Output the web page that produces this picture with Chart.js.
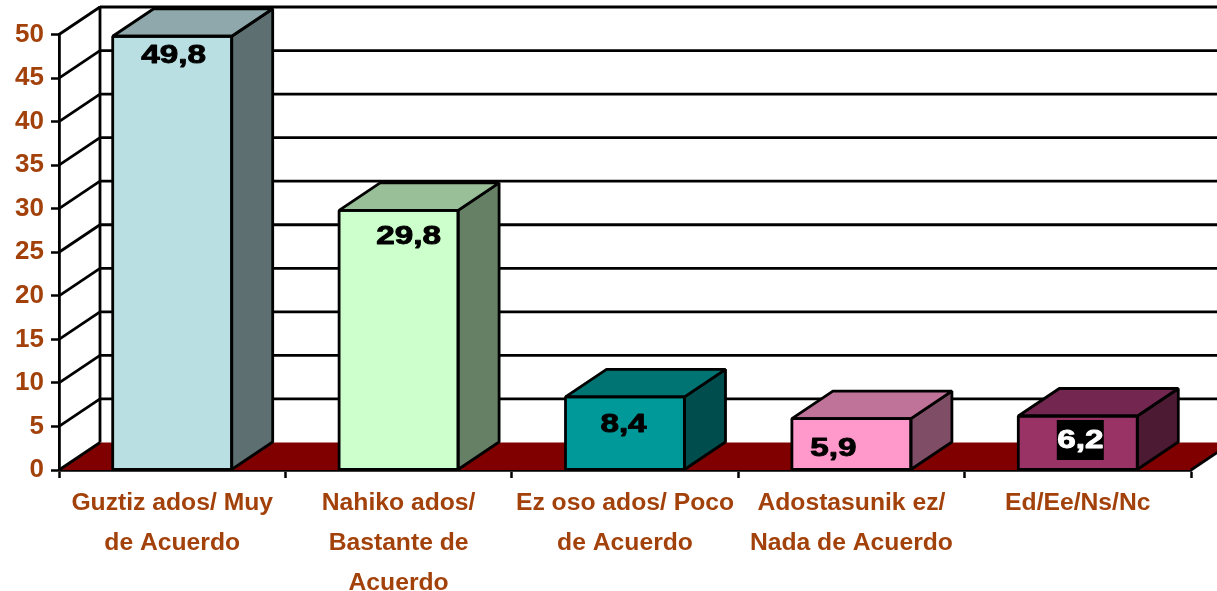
<!DOCTYPE html>
<html><head><meta charset="utf-8">
<style>html,body{margin:0;padding:0;background:#fff;overflow:hidden}canvas{display:block}</style>
<script src="https://cdn.jsdelivr.net/npm/chart.js@4"></script>
</head><body><canvas id="c" width="1217" height="591"></canvas>
<script>
const categories=[["Guztiz ados/ Muy","de Acuerdo"],["Nahiko ados/","Bastante de","Acuerdo"],["Ez oso ados/ Poco","de Acuerdo"],["Adostasunik ez/","Nada de Acuerdo"],["Ed/Ee/Ns/Nc"]];
const values=[49.8,29.8,8.4,5.9,6.2];
const valueLabels=["49,8","29,8","8,4","5,9","6,2"];
const frontColors=["#B9DFE2","#CCFFCC","#009999","#FF99CC","#993366"];
const sideColors=["#5E6F72","#668066","#004D4D","#804D66","#4D1A33"];
const topColors=["#8FA8AB","#99BF99","#007373","#BF7399","#732650"];
const labelShiftX=[1.5,10,-1.5,-18,2.5];
const labelShiftY=[17,24,26,28,23];
const labelColors=["#000","#000","#000","#000","#fff"];
const labelBoxes=[null,null,null,null,"#000"];
const depthX=41,depthY=27.5,LW=2.8,TXT="#A3410B";
function poly(ctx,pts,fill,stroke){ctx.beginPath();pts.forEach((p,i)=>i?ctx.lineTo(p[0],p[1]):ctx.moveTo(p[0],p[1]));ctx.closePath();
 if(fill){ctx.fillStyle=fill;ctx.fill();} if(stroke){ctx.strokeStyle="#000";ctx.lineWidth=LW;ctx.lineJoin="bevel";ctx.stroke();}}
function line(ctx,a,b,c,d){ctx.beginPath();ctx.moveTo(a,b);ctx.lineTo(c,d);ctx.strokeStyle="#000";ctx.lineWidth=LW;ctx.stroke();}
const threeD={id:"threeD",
 beforeDatasetsDraw(ch){const {ctx,scales:{x,y}}=ch;const L=x.left,R=x.right+depthX+5,B=y.getPixelForValue(0);ctx.save();
  poly(ctx,[[L,B],[L+depthX,B-depthY],[x.right+depthX,B-depthY],[x.right,B]],"#800000");
  line(ctx,L,B,L+depthX,B-depthY);line(ctx,x.right,B,x.right+depthX,B-depthY);
  y.ticks.forEach(t=>{const p=y.getPixelForValue(t.value);
   if(t.value>0){line(ctx,L,p,L+depthX,p-depthY);line(ctx,L+depthX,p-depthY,R,p-depthY);}});
  line(ctx,L+depthX,y.getPixelForValue(50)-depthY-1,L+depthX,B-depthY);
  ctx.restore();},
 afterDatasetsDraw(ch){const {ctx}=ch;const els=ch.getDatasetMeta(0).data;ctx.save();
  els.forEach((b,i)=>{const l=b.x-b.width/2,r=b.x+b.width/2,t=b.y,B=b.base;
   poly(ctx,[[r,t],[r+depthX,t-depthY],[r+depthX,B-depthY],[r,B]],sideColors[i],true);
   poly(ctx,[[l,t],[l+depthX,t-depthY],[r+depthX,t-depthY],[r,t]],topColors[i],true);
   poly(ctx,[[l,t],[r,t],[r,B],[l,B]],null,true);});
  ctx.font="bold 25px 'Liberation Sans'";ctx.textAlign="center";ctx.textBaseline="middle";ctx.lineJoin="round";
  els.forEach((b,i)=>{const cx=b.x+labelShiftX[i],cy=b.y+labelShiftY[i];
   if(labelBoxes[i]){ctx.fillStyle=labelBoxes[i];ctx.fillRect(cx-23.5,cy-19,47,40);}
   ctx.save();ctx.translate(cx,cy+2.5);ctx.scale(1.33,1);
   ctx.fillStyle=labelColors[i];ctx.strokeStyle=labelColors[i];ctx.lineWidth=0.9;
   ctx.fillText(valueLabels[i],0,0);ctx.strokeText(valueLabels[i],0,0);ctx.restore();});
  ctx.restore();}};
new Chart(document.getElementById("c"),{type:"bar",
 data:{labels:categories,datasets:[{data:values,backgroundColor:frontColors,borderWidth:0,categoryPercentage:0.5256,barPercentage:1}]},
 options:{responsive:false,animation:false,events:[],
  layout:{padding:{left:0,right:26,top:34.5,bottom:0}},
  plugins:{legend:{display:false},tooltip:{enabled:false}},
  scales:{
   x:{afterFit(s){s.height=121;},grid:{offset:true,drawOnChartArea:false,drawTicks:true,tickLength:8,tickColor:"#000",tickWidth:2.5},
      border:{color:"#000",width:2.8},
      ticks:{color:TXT,maxRotation:0,minRotation:0,autoSkip:false,padding:5,font:{family:"'Liberation Sans'",weight:"bold",size:24.7,lineHeight:1.62}}},
   y:{min:0,max:50,afterFit(s){s.width=59;},grid:{drawOnChartArea:false,drawTicks:true,tickLength:8,tickColor:"#000",tickWidth:2.5},
      border:{color:"#000",width:2.8},
      ticks:{stepSize:5,color:TXT,padding:7,font:{family:"'Liberation Sans'",weight:"bold",size:26}}}}},
 plugins:[threeD]});
</script></body></html>
